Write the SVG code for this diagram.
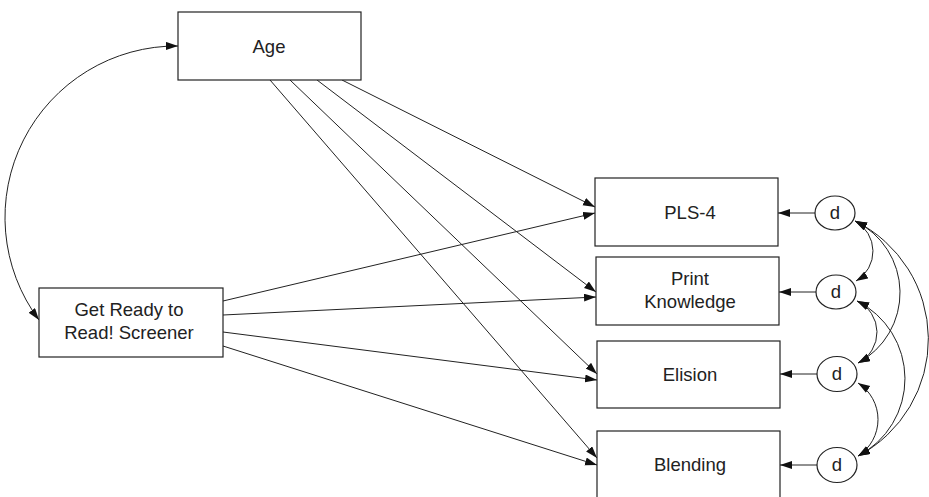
<svg xmlns="http://www.w3.org/2000/svg" width="929" height="497" viewBox="0 0 929 497">
<style>
.box{fill:#fff;stroke:#222;stroke-width:1.2}
.lbl{font-family:"Liberation Sans",Arial,sans-serif;font-size:18.5px;fill:#222;text-anchor:middle}
.c{fill:none;stroke:#222;stroke-width:1}
</style>
<defs>
<marker id="ah" markerUnits="userSpaceOnUse" markerWidth="13" markerHeight="9" viewBox="0 0 13 9" refX="12" refY="4" orient="auto-start-reverse">
<path d="M0,0 L12,4 L0,8 z" fill="#111"/>
</marker>
</defs>
<rect width="929" height="497" fill="#fff"/>
<g id="connectors">
<path class="c" d="M178,46 A171.5,171.5 0 0 0 39,320" marker-start="url(#ah)" marker-end="url(#ah)"/>
<line class="c" x1="342" y1="80" x2="595" y2="207" marker-end="url(#ah)"/>
<line class="c" x1="317" y1="80" x2="596" y2="292" marker-end="url(#ah)"/>
<line class="c" x1="290" y1="80" x2="597" y2="374" marker-end="url(#ah)"/>
<line class="c" x1="270" y1="80" x2="597" y2="458" marker-end="url(#ah)"/>
<line class="c" x1="223" y1="301" x2="595" y2="213" marker-end="url(#ah)"/>
<line class="c" x1="223" y1="315" x2="596" y2="297" marker-end="url(#ah)"/>
<line class="c" x1="223" y1="332" x2="597" y2="380" marker-end="url(#ah)"/>
<line class="c" x1="223" y1="346" x2="597" y2="465" marker-end="url(#ah)"/>
<line class="c" x1="815" y1="213" x2="778" y2="213" marker-end="url(#ah)"/>
<line class="c" x1="816" y1="292" x2="779" y2="292" marker-end="url(#ah)"/>
<line class="c" x1="817" y1="374" x2="780" y2="374" marker-end="url(#ah)"/>
<line class="c" x1="817" y1="465" x2="780" y2="465" marker-end="url(#ah)"/>
<path class="c" d="M855,221 A34.5,34.5 0 0 1 856,281" marker-start="url(#ah)" marker-end="url(#ah)"/>
<path class="c" d="M855,221 A79.7,79.7 0 0 1 858,363" marker-start="url(#ah)" marker-end="url(#ah)"/>
<path class="c" d="M855,221 A132,132 0 0 1 858,456" marker-start="url(#ah)" marker-end="url(#ah)"/>
<path class="c" d="M857,301 A34.4,34.4 0 0 1 858,363" marker-start="url(#ah)" marker-end="url(#ah)"/>
<path class="c" d="M857,301 A87,87 0 0 1 858,456" marker-start="url(#ah)" marker-end="url(#ah)"/>
<path class="c" d="M858,383 A43.3,43.3 0 0 1 858,456" marker-start="url(#ah)" marker-end="url(#ah)"/>
</g>
<g id="age"><rect class="box" x="178" y="12" width="183" height="68"/><text class="lbl" x="269" y="52.5">Age</text></g>
<g id="grtr"><rect class="box" x="39" y="288" width="184" height="69"/><text class="lbl" x="129" y="316">Get Ready to</text><text class="lbl" x="129" y="338.5">Read! Screener</text></g>
<g id="pls4"><rect class="box" x="595" y="178" width="183" height="68"/><text class="lbl" x="690" y="218.5">PLS-4</text></g>
<g id="print"><rect class="box" x="596" y="257" width="183" height="68"/><text class="lbl" x="690" y="285">Print</text><text class="lbl" x="690" y="308">Knowledge</text></g>
<g id="elision"><rect class="box" x="597" y="341" width="183" height="67"/><text class="lbl" x="690" y="380.5">Elision</text></g>
<g id="blending"><rect class="box" x="597" y="431" width="183" height="70"/><text class="lbl" x="690" y="471">Blending</text></g>
<g id="d1"><ellipse class="box" cx="835" cy="213" rx="20" ry="17"/><text class="lbl" x="835" y="219">d</text></g>
<g id="d2"><ellipse class="box" cx="836" cy="292" rx="20" ry="17"/><text class="lbl" x="836" y="298">d</text></g>
<g id="d3"><ellipse class="box" cx="837" cy="374" rx="20" ry="17.5"/><text class="lbl" x="837" y="380">d</text></g>
<g id="d4"><ellipse class="box" cx="837" cy="465" rx="20" ry="17.5"/><text class="lbl" x="837" y="471">d</text></g>
</svg>
